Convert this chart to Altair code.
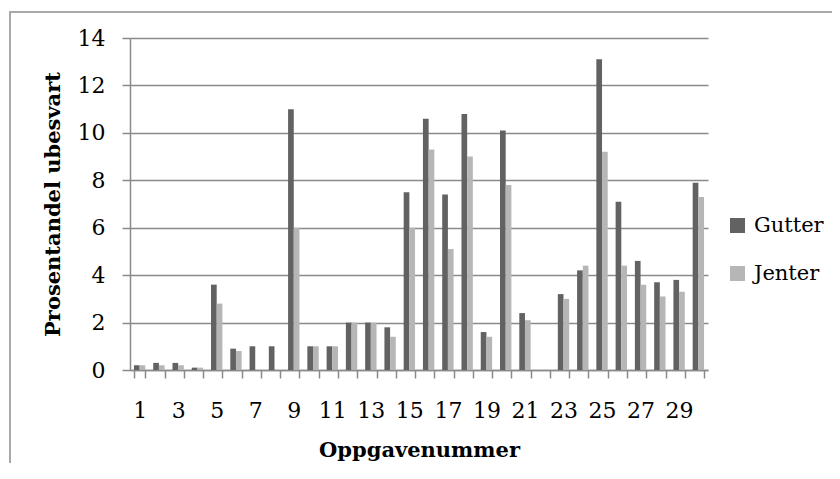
import altair as alt
import pandas as pd

# ---- data ----
tasks = list(range(1, 31))
gutter = [0.2, 0.3, 0.3, 0.1, 3.6, 0.9, 1.0, 1.0, 11.0, 1.0,
          1.0, 2.0, 2.0, 1.8, 7.5, 10.6, 7.4, 10.8, 1.6, 10.1,
          2.4, 0.0, 3.2, 4.2, 13.1, 7.1, 4.6, 3.7, 3.8, 7.9]
jenter = [0.2, 0.2, 0.2, 0.1, 2.8, 0.8, 0.0, 0.0, 6.0, 1.0,
          1.0, 2.0, 2.0, 1.4, 6.0, 9.3, 5.1, 9.0, 1.4, 7.8,
          2.1, 0.0, 3.0, 4.4, 9.2, 4.4, 3.6, 3.1, 3.3, 7.3]
series = ["Gutter", "Jenter"]
colors = ["#626262", "#b6b6b6"]
y_ticks = [0, 2, 4, 6, 8, 10, 12, 14]

rows = []
for t, g, j in zip(tasks, gutter, jenter):
    rows.append({"Oppgave": t, "Kjonn": "Gutter", "Prosent": g})
    rows.append({"Oppgave": t, "Kjonn": "Jenter", "Prosent": j})
df = pd.DataFrame(rows)

FONT = "DejaVu Serif"
GRID = "#8a8a8a"

bars = alt.Chart(df).mark_bar(clip=False).encode(
    x=alt.X(
        "Oppgave:O",
        sort=tasks,
        scale=alt.Scale(paddingInner=0.41, paddingOuter=0.205),
        axis=alt.Axis(
            title="Oppgavenummer",
            labelAngle=0,
            tickBand="extent",
            labelExpr="datum.value % 2 == 1 ? datum.label : ''",
            tickSize=8,
            labelPadding=22,
            titlePadding=18,
            grid=False,
        ),
    ),
    xOffset=alt.XOffset("Kjonn:N", sort=series,
                        scale=alt.Scale(paddingInner=0, paddingOuter=0)),
    y=alt.Y(
        "Prosent:Q",
        scale=alt.Scale(domain=[0, 14], nice=False),
        axis=alt.Axis(
            values=y_ticks,
            title="Prosentandel ubesvart",
            tickSize=8,
            labelPadding=17,
            titlePadding=14,
            grid=True,
        ),
    ),
    color=alt.Color(
        "Kjonn:N",
        sort=series,
        scale=alt.Scale(domain=series, range=colors),
        legend=alt.Legend(
            title=None,
            orient="none",
            legendX=597,
            legendY=177,
            symbolType="square",
            symbolSize=225,
            symbolStrokeWidth=0,
            labelFont=FONT,
            labelFontSize=21,
            labelColor="#000000",
            labelOffset=6,
            rowPadding=26,
            padding=0,
        ),
    ),
)

one = pd.DataFrame({"k": [0]})
frame_left = alt.Chart(one).mark_rule(color="#a9a9a9", strokeWidth=2, clip=False).encode(
    x=alt.value(-120), y=alt.value(-26), y2=alt.value(600)
)
frame_top = alt.Chart(one).mark_rule(color="#a9a9a9", strokeWidth=2, clip=False).encode(
    y=alt.value(-26), x=alt.value(-121), x2=alt.value(900)
)

chart = alt.layer(frame_left, frame_top, bars).properties(
    width=578,
    height=332,
    autosize=alt.AutoSizeParams(type="none"),
    padding={"left": 122, "top": 30, "right": 124, "bottom": 93},
).configure_view(
    stroke=None
).configure_axis(
    labelFont=FONT,
    labelFontSize=22,
    labelColor="#000000",
    titleFont=FONT,
    titleFontSize=21,
    titleFontWeight="bold",
    titleColor="#000000",
    domainColor=GRID,
    domainWidth=1.5,
    tickColor=GRID,
    tickWidth=1.5,
    gridColor=GRID,
    gridWidth=1.5,
)

chart.save("out.html", embed_options={"renderer": "svg", "actions": False})
